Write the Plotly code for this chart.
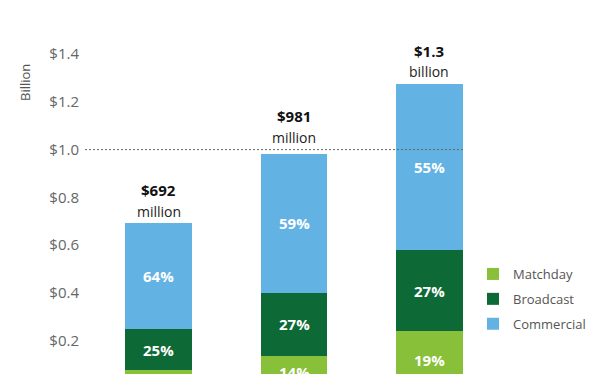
import plotly.graph_objects as go

categories = ["Year 1", "Year 2", "Year 3"]
matchday = [0.076, 0.137, 0.240]
broadcast = [0.173, 0.265, 0.340]
commercial = [0.443, 0.579, 0.695]
share_matchday = ["11%", "14%", "19%"]
share_broadcast = ["25%", "27%", "27%"]
share_commercial = ["64%", "59%", "55%"]
total_amount = ["$692", "$981", "$1.3"]
total_unit = ["million", "million", "billion"]
tick_vals = [0.2, 0.4, 0.6, 0.8, 1.0, 1.2, 1.4]

colors = {"Matchday": "#88C03A", "Broadcast": "#0D6A37", "Commercial": "#62B3E3"}
FONT = "Open Sans"
BAR_W = 0.49
label_lift = {"Year 1": 0, "Year 2": 5, "Year 3": 0}

W, H = 608, 374
L, R = 85, 138
pw = W - L - R
XR = [-0.5425, 2.299]

fig = go.Figure()
series = [("Matchday", matchday), ("Broadcast", broadcast), ("Commercial", commercial)]
for name, vals in series:
    fig.add_trace(go.Bar(
        x=categories, y=vals, name=name, width=BAR_W,
        marker=dict(color=colors[name], line=dict(width=0)),
        legendgroup=name, hoverinfo="skip",
    ))

annotations = []
shares = [share_matchday, share_broadcast, share_commercial]
for i, cat in enumerate(categories):
    base = 0.0
    for (name, vals), sh in zip(series, shares):
        mid = base + vals[i] / 2
        annotations.append(dict(
            x=cat, y=mid, xref="x", yref="y", text="<b>%s</b>" % sh[i],
            showarrow=False, font=dict(family=FONT, size=15, color="white"),
        ))
        base += vals[i]
    lift = label_lift[cat]
    annotations.append(dict(
        x=cat, y=base, xref="x", yref="y", text=total_unit[i],
        showarrow=False, yanchor="middle", yshift=12 + lift,
        font=dict(family=FONT, size=14, color="#222222"),
    ))
    annotations.append(dict(
        x=cat, y=base, xref="x", yref="y", text="<b>%s</b>" % total_amount[i],
        showarrow=False, yanchor="middle", yshift=33 + lift,
        font=dict(family=FONT, size=15, color="#111111"),
    ))

annotations.append(dict(
    x=(25 - L) / pw, y=(H - 83) / H, xref="paper", yref="paper",
    xanchor="center", yanchor="middle",
    text="Billion", textangle=-90,
    showarrow=False, font=dict(family=FONT, size=13, color="#555555"),
))

fig.update_layout(annotations=annotations)

fig.add_shape(
    type="line", xref="x domain", yref="y", x0=0,
    x1=(2 + BAR_W / 2 - XR[0]) / (XR[1] - XR[0]),
    y0=1.0, y1=1.0, line=dict(color="#666666", width=1, dash="2px,2px"),
)

fig.update_layout(
    width=W, height=H, barmode="stack",
    margin=dict(l=L, r=R, t=0, b=0, autoexpand=False),
    plot_bgcolor="white", paper_bgcolor="white",
    font=dict(family=FONT),
    showlegend=True,
    legend=dict(
        x=(473 - L) / pw, y=(H - 259) / H, xanchor="left", yanchor="top",
        traceorder="grouped", tracegroupgap=5,
        font=dict(family=FONT, size=13, color="#555555"),
        bgcolor="rgba(0,0,0,0)",
    ),
    xaxis=dict(
        range=XR, showticklabels=False, showgrid=False,
        zeroline=False, showline=False, ticks="",
    ),
    yaxis=dict(
        range=[0.061, 1.626], tickvals=tick_vals, tickformat="$.1f",
        showgrid=False, zeroline=False, showline=False, ticks="",
        tickfont=dict(family=FONT, size=15, color="#666666"),
        ticklabelstandoff=5,
    ),
)

fig.write_html("out.html", config={"displayModeBar": False},
               post_script="document.body.style.margin='0';")
